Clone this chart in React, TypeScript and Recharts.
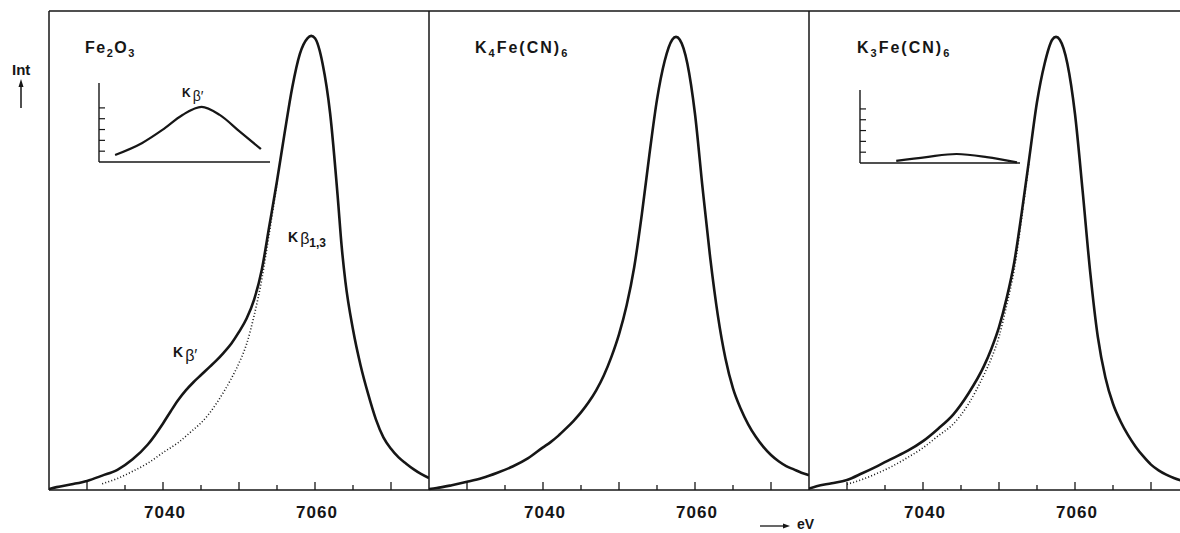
import React from 'react';
import { LineChart, Line, XAxis, YAxis, ReferenceLine } from 'recharts';

// Kβ emission spectra, energy in eV, intensity in % of the panel height
const fe2o3Energy = [
  7025, 7026, 7028, 7030, 7032, 7034, 7036, 7038, 7040, 7041, 7042, 7043, 7044, 7045, 7046, 7047,
  7048, 7049, 7050, 7051, 7052, 7053, 7054, 7055, 7056, 7057, 7058, 7059, 7059.5, 7060, 7061, 7062,
  7063, 7063.5, 7064, 7065, 7066, 7067, 7068, 7069, 7070, 7071, 7072, 7073, 7074, 7075,
];
const fe2o3Intensity = [
  0.2, 0.6, 1.2, 1.9, 3.0, 4.2, 6.4, 9.5, 13.9, 16.4, 18.8, 20.8, 22.5, 24.0, 25.5, 27.0,
  28.7, 30.6, 33.0, 35.8, 39.8, 46.0, 55.2, 64.5, 74.5, 84.0, 91.0, 94.3, 94.8, 94.3, 89.0, 78.5,
  61.0, 51.0, 43.5, 33.5, 26.0, 20.0, 14.8, 11.0, 8.6, 6.8, 5.5, 4.3, 3.3, 2.5,
];
const fe2o3FitEnergy = [
  7032, 7034, 7036, 7038, 7040, 7042, 7044, 7045, 7046, 7047, 7048, 7049, 7050, 7051, 7052, 7053,
  7054, 7055,
];
const fe2o3FitIntensity = [
  1.3, 2.4, 3.9, 5.6, 7.8, 9.9, 12.6, 14.0, 15.8, 18.0, 20.5, 23.3, 26.5, 30.5, 36.5, 44.0,
  53.8, 64.0,
];

const k4Energy = [
  7025, 7026, 7028, 7030, 7032, 7034, 7036, 7038, 7040, 7041, 7042, 7043, 7044, 7045, 7046, 7047,
  7048, 7049, 7050, 7051, 7052, 7053, 7054, 7055, 7056, 7057, 7057.5, 7058, 7059, 7060, 7061, 7062,
  7063, 7064, 7065, 7066, 7067, 7068, 7069, 7070, 7071, 7072, 7073, 7074, 7075,
];
const k4Intensity = [
  0.2, 0.4, 1.0, 1.7, 2.5, 3.6, 4.9, 6.6, 8.9, 10.0, 11.3, 12.8, 14.4, 16.2, 18.3, 20.8,
  23.9, 27.8, 32.5, 38.5, 46.5, 57.5, 70.0, 81.5, 89.5, 94.0, 94.6, 94.0, 89.0, 78.5, 63.0, 48.5,
  36.5, 27.5, 21.2, 17.0, 13.7, 11.1, 9.0, 7.3, 6.0, 5.0, 4.3, 3.6, 3.1,
];

const k3Energy = [
  7025, 7026, 7028, 7030, 7032, 7034, 7036, 7038, 7040, 7042, 7044, 7046, 7048, 7049, 7050, 7051,
  7052, 7053, 7054, 7055, 7056, 7057, 7057.5, 7058, 7059, 7060, 7061, 7062, 7063, 7064, 7065, 7066,
  7067, 7068, 7069, 7070, 7071, 7072, 7073, 7074, 7075,
];
const k3Intensity = [
  0.3, 0.8, 1.4, 2.1, 3.5, 5.0, 6.6, 8.2, 10.2, 12.8, 15.8, 20.2, 25.8, 29.5, 34.0, 40.0,
  47.5, 58.0, 69.5, 81.0, 89.0, 94.0, 94.6, 94.0, 89.0, 78.5, 62.5, 45.5, 32.0, 23.5, 18.0, 14.3,
  11.4, 9.0, 7.0, 5.3, 4.1, 3.2, 2.5, 2.0, 1.7,
];
const k3FitEnergy = [
  7030, 7032, 7034, 7036, 7038, 7040, 7042, 7044, 7046, 7048, 7049, 7050, 7051, 7052, 7053, 7054,
];
const k3FitIntensity = [
  1.2, 2.2, 3.5, 5.0, 6.8, 8.8, 11.3, 13.8, 18.0, 24.0, 27.5, 32.0, 38.5, 46.0, 57.0, 69.0,
];

// insets: Kβ' satellite blown up
const fe2o3InsetX = [1.6, 4.3, 6.3, 8.3, 10.2, 12.0, 14.0, 16.1];
const fe2o3InsetY = [0.65, 1.76, 2.96, 4.35, 5.1, 4.35, 2.8, 1.2];
const k3InsetX = [3.6, 6.6, 9.6, 12.6, 15.6];
const k3InsetY = [0.2, 0.55, 0.83, 0.55, 0.05];

const energyTicks = [7030, 7035, 7040, 7045, 7050, 7055, 7060, 7065, 7070];
const labelledTicks = [7040, 7060];
const insetTicks = [1, 2, 3, 4, 5];

const INK = '#161616';
const FONT = '"Liberation Sans", Arial, sans-serif';

const toPoints = (xs: number[], ys: number[]) => xs.map((x, i) => ({ x, y: ys[i] }));

function EnergyTick(props: any) {
  const { x, y, payload } = props;
  const major = payload.value % 10 === 0;
  return (
    <g>
      <line x1={x} x2={x} y1={y} y2={y - (major ? 8 : 5)} stroke={INK} strokeWidth={1.3} />
      {labelledTicks.includes(payload.value) && (
        <text
          x={x + 2}
          y={y + 28}
          textAnchor="middle"
          fontFamily={FONT}
          fontWeight="bold"
          fontSize={17}
          letterSpacing={1}
          fill={INK}
        >
          {payload.value}
        </text>
      )}
    </g>
  );
}

function Panel({ left, solid, fit }: { left: number; solid: any[]; fit?: any[] }) {
  return (
    <div style={{ position: 'absolute', left: left - 2, top: 0 }}>
      <LineChart width={384} height={533} margin={{ top: 11, right: 2, bottom: 13, left: 1 }}>
        <XAxis
          type="number"
          dataKey="x"
          domain={[7025, 7075]}
          ticks={energyTicks}
          interval={0}
          allowDataOverflow
          height={30}
          tickSize={0}
          tickMargin={0}
          tickLine={false}
          axisLine={{ stroke: INK, strokeWidth: 1.5 }}
          tick={(p: any) => <EnergyTick {...p} />}
        />
        <YAxis
          type="number"
          domain={[0, 100]}
          width={1}
          tick={() => <g />}
          tickLine={false}
          axisLine={{ stroke: INK, strokeWidth: 1.5 }}
        />
        <ReferenceLine y={100} stroke={INK} strokeWidth={1.5} ifOverflow="visible" />
        {fit && (
          <Line
            data={fit}
            dataKey="y"
            type="monotone"
            stroke={INK}
            strokeWidth={1.6}
            strokeDasharray="1 2.2"
            dot={false}
            isAnimationActive={false}
          />
        )}
        <Line
          data={solid}
          dataKey="y"
          type="monotone"
          stroke={INK}
          strokeWidth={2.6}
          dot={false}
          isAnimationActive={false}
        />
      </LineChart>
    </div>
  );
}

function Inset({ left, top, width, height, xMax, yMax, points }: any) {
  return (
    <div style={{ position: 'absolute', left: left - 2, top }}>
      <LineChart width={width + 4} height={height + 2} margin={{ top: 0, right: 2, bottom: 1, left: 1 }}>
        <XAxis
          type="number"
          dataKey="x"
          domain={[0, xMax]}
          height={1}
          tick={() => <g />}
          tickLine={false}
          axisLine={{ stroke: INK, strokeWidth: 1.4 }}
        />
        <YAxis
          type="number"
          domain={[0, yMax]}
          ticks={insetTicks}
          interval={0}
          width={1}
          mirror
          tickSize={6}
          tick={() => <g />}
          tickLine={{ stroke: INK, strokeWidth: 1.2 }}
          axisLine={{ stroke: INK, strokeWidth: 1.4 }}
        />
        <Line
          data={points}
          dataKey="y"
          type="monotone"
          stroke={INK}
          strokeWidth={2.2}
          dot={false}
          isAnimationActive={false}
        />
      </LineChart>
    </div>
  );
}

export default function App() {
  const txt = { fontFamily: FONT, fontWeight: 'bold' as const, fill: INK };
  return (
    <div
      style={{
        position: 'absolute',
        left: 0,
        top: 0,
        width: 1180,
        height: 533,
        overflow: 'hidden',
        background: '#fff',
      }}
    >
      <Panel left={48.5} solid={toPoints(fe2o3Energy, fe2o3Intensity)} fit={toPoints(fe2o3FitEnergy, fe2o3FitIntensity)} />
      <Panel left={428.5} solid={toPoints(k4Energy, k4Intensity)} />
      <Panel left={808.5} solid={toPoints(k3Energy, k3Intensity)} fit={toPoints(k3FitEnergy, k3FitIntensity)} />
      <Inset left={100} top={83} width={170} height={79} xMax={17} yMax={7.3} points={toPoints(fe2o3InsetX, fe2o3InsetY)} />
      <Inset left={861} top={90} width={159} height={73} xMax={15.9} yMax={6.75} points={toPoints(k3InsetX, k3InsetY)} />
      <svg width={1180} height={533} style={{ position: 'absolute', left: 0, top: 0, pointerEvents: 'none' }}>
        <text x={12} y={75} fontSize={15} {...txt}>Int</text>
        <line x1={21} y1={108} x2={21} y2={85} stroke={INK} strokeWidth={1.5} />
        <polygon points="21,79 18.5,87 23.5,87" fill={INK} />

        <text x={85} y={53} fontSize={16} letterSpacing={1.5} {...txt}>
          Fe<tspan fontSize={11} dy={4}>2</tspan>
          <tspan fontSize={16} dy={-4}>O</tspan>
          <tspan fontSize={11} dy={4}>3</tspan>
        </text>
        <text x={475} y={53} fontSize={16} letterSpacing={2} {...txt}>
          K<tspan fontSize={11} dy={4}>4</tspan>
          <tspan fontSize={16} dy={-4}>Fe(CN)</tspan>
          <tspan fontSize={11} dy={4}>6</tspan>
        </text>
        <text x={857} y={53} fontSize={16} letterSpacing={2} {...txt}>
          K<tspan fontSize={11} dy={4}>3</tspan>
          <tspan fontSize={16} dy={-4}>Fe(CN)</tspan>
          <tspan fontSize={11} dy={4}>6</tspan>
        </text>

        <text x={182} y={97} fontSize={12} {...txt}>
          K<tspan dx={2} dy={4} fontSize={14} fontWeight="normal">β′</tspan>
        </text>
        <text x={173} y={357} fontSize={14} {...txt}>
          K<tspan dx={2} dy={4} fontSize={16} fontWeight="normal">β′</tspan>
        </text>
        <text x={288} y={242} fontSize={14} {...txt}>
          K<tspan dx={2} dy={2} fontSize={16} fontWeight="normal">β</tspan>
          <tspan dy={3} fontSize={12}>1,3</tspan>
        </text>

        <line x1={760} y1={526} x2={784} y2={526} stroke={INK} strokeWidth={1.3} />
        <polygon points="790,526 783,523.5 783,528.5" fill={INK} />
        <text x={797} y={529} fontSize={14} {...txt}>eV</text>
      </svg>
    </div>
  );
}
